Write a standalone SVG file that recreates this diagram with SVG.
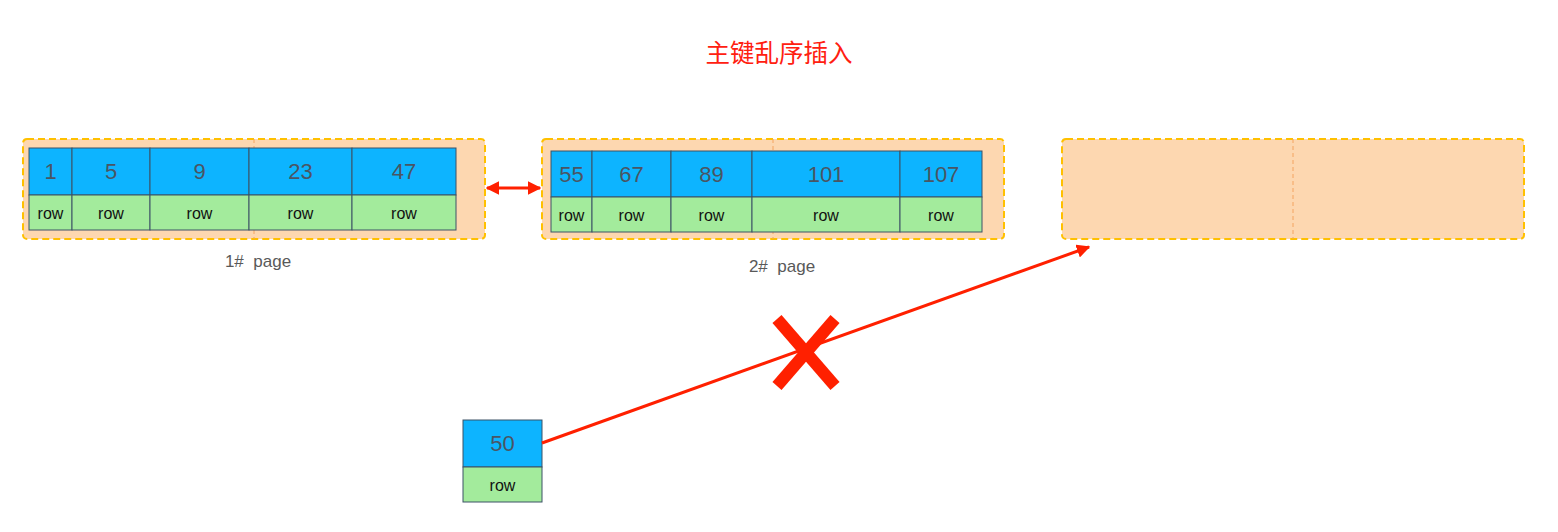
<svg xmlns="http://www.w3.org/2000/svg" width="1558" height="532" viewBox="0 0 1558 532">
  <defs>
    <style>
      .page { fill: #FDD7B0; stroke: #FFC000; stroke-width: 2; stroke-dasharray: 7 4; }
      .split { stroke: #F4A460; stroke-width: 1; stroke-dasharray: 4 3; fill: none; }
      .key { fill: #0DB4FF; stroke: #3D5266; stroke-width: 1; }
      .row { fill: #A3EB9C; stroke: #3D5266; stroke-width: 1; }
      .num { font-family: "Liberation Sans", "Noto Sans", sans-serif; font-size: 22px; fill: #4A5563; text-anchor: middle; }
      .rtxt { font-family: "Liberation Sans", "Noto Sans", sans-serif; font-size: 16px; fill: #111; text-anchor: middle; }
      .lbl { font-family: "Liberation Sans", "Noto Sans", sans-serif; font-size: 17px; fill: #595959; text-anchor: middle; white-space: pre; }
      .link { stroke: #FF2000; stroke-width: 3; fill: none; }
    </style>
    <marker id="ah" viewBox="0 0 10 10" refX="9" refY="5" markerWidth="4.5" markerHeight="4.5" orient="auto-start-reverse">
      <path d="M0,0 L10,5 L0,10 z" fill="#FF2000"/>
    </marker>
  </defs>

  <text x="779" y="62" font-family="'Noto Sans CJK SC', sans-serif" font-size="24.5" fill="#FF2010" text-anchor="middle">主键乱序插入</text>

  <!-- page 1 -->
  <g id="page1">
    <rect class="page" x="23" y="139" width="462" height="100" rx="4"/>
    <line class="split" x1="254" y1="139" x2="254" y2="239"/>
    <rect class="key" x="29" y="148" width="43" height="47"/>
    <rect class="key" x="72" y="148" width="78" height="47"/>
    <rect class="key" x="150" y="148" width="99" height="47"/>
    <rect class="key" x="249" y="148" width="103" height="47"/>
    <rect class="key" x="352" y="148" width="104" height="47"/>
    <rect class="row" x="29" y="195" width="43" height="35"/>
    <rect class="row" x="72" y="195" width="78" height="35"/>
    <rect class="row" x="150" y="195" width="99" height="35"/>
    <rect class="row" x="249" y="195" width="103" height="35"/>
    <rect class="row" x="352" y="195" width="104" height="35"/>
    <text class="num" x="50.5" y="179">1</text>
    <text class="num" x="111" y="179">5</text>
    <text class="num" x="199.5" y="179">9</text>
    <text class="num" x="300.5" y="179">23</text>
    <text class="num" x="404" y="179">47</text>
    <text class="rtxt" x="50.5" y="219">row</text>
    <text class="rtxt" x="111" y="219">row</text>
    <text class="rtxt" x="199.5" y="219">row</text>
    <text class="rtxt" x="300.5" y="219">row</text>
    <text class="rtxt" x="404" y="219">row</text>
    <text class="lbl" x="258" y="267" xml:space="preserve">1#  page</text>
  </g>

  <!-- page 2 -->
  <g id="page2">
    <rect class="page" x="542" y="139" width="462" height="100" rx="4"/>
    <line class="split" x1="773" y1="139" x2="773" y2="239"/>
    <rect class="key" x="551" y="151" width="41" height="46"/>
    <rect class="key" x="592" y="151" width="79" height="46"/>
    <rect class="key" x="671" y="151" width="81" height="46"/>
    <rect class="key" x="752" y="151" width="148" height="46"/>
    <rect class="key" x="900" y="151" width="82" height="46"/>
    <rect class="row" x="551" y="197" width="41" height="35"/>
    <rect class="row" x="592" y="197" width="79" height="35"/>
    <rect class="row" x="671" y="197" width="81" height="35"/>
    <rect class="row" x="752" y="197" width="148" height="35"/>
    <rect class="row" x="900" y="197" width="82" height="35"/>
    <text class="num" x="571.5" y="182">55</text>
    <text class="num" x="631.5" y="182">67</text>
    <text class="num" x="711.5" y="182">89</text>
    <text class="num" x="826" y="182">101</text>
    <text class="num" x="941" y="182">107</text>
    <text class="rtxt" x="571.5" y="221">row</text>
    <text class="rtxt" x="631.5" y="221">row</text>
    <text class="rtxt" x="711.5" y="221">row</text>
    <text class="rtxt" x="826" y="221">row</text>
    <text class="rtxt" x="941" y="221">row</text>
    <text class="lbl" x="782" y="272" xml:space="preserve">2#  page</text>
  </g>

  <!-- page 3 (empty) -->
  <g id="page3">
    <rect class="page" x="1062" y="139" width="462" height="100" rx="4"/>
    <line class="split" x1="1293" y1="139" x2="1293" y2="239"/>
  </g>

  <!-- new record -->
  <g id="rec50">
    <rect class="key" x="463" y="420" width="79" height="47"/>
    <rect class="row" x="463" y="467" width="79" height="35"/>
    <text class="num" x="502.5" y="451">50</text>
    <text class="rtxt" x="502.5" y="491">row</text>
  </g>

  <!-- connectors -->
  <g id="connectors">
    <line class="link" x1="487" y1="188" x2="540" y2="188" marker-start="url(#ah)" marker-end="url(#ah)"/>
    <line class="link" x1="542" y1="443" x2="1089" y2="247" marker-end="url(#ah)"/>
    <g stroke="#FF2000" stroke-width="12">
      <line x1="777" y1="319" x2="835" y2="386"/>
      <line x1="835" y1="319" x2="777" y2="386"/>
    </g>
  </g>
</svg>
